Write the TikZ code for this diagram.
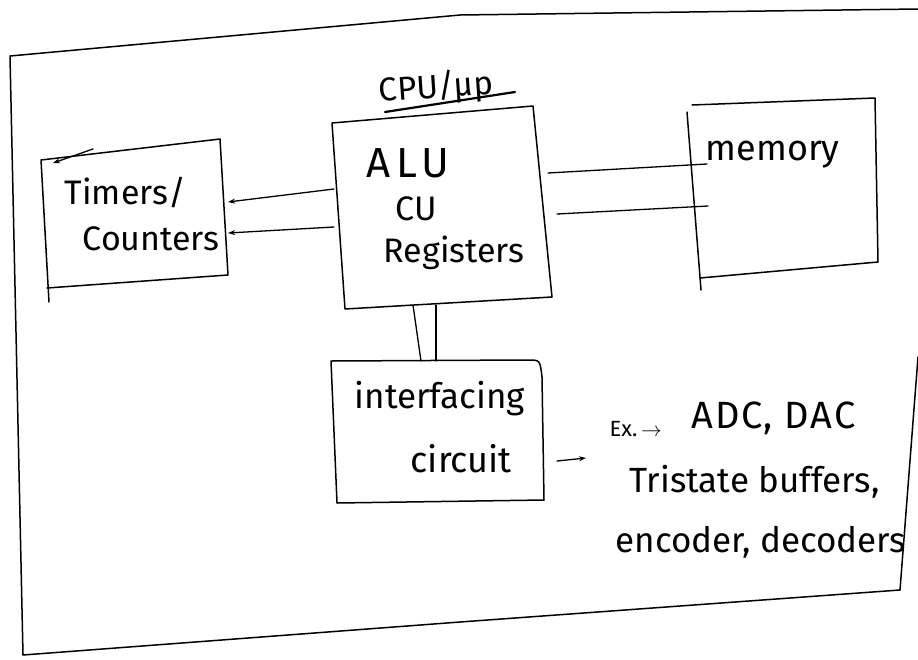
\documentclass[tikz,border=0pt]{standalone}
\usepackage{fontspec}
\setmainfont{Fira Sans}
\usetikzlibrary{arrows.meta}
\begin{document}
\begin{tikzpicture}[x=1pt,y=-1pt, line width=1.4pt, line cap=round, line join=round,
  hand/.style={inner sep=0pt, anchor=base west},
  txt/.style={hand, font=\fontsize{34}{40}\selectfont},
  bigtxt/.style={hand, font=\fontsize{38}{44}\selectfont},
  smalltxt/.style={hand, font=\fontsize{22}{26}\selectfont},
  boxline/.style={line width=1.5pt},
  busline/.style={line width=1.3pt},
  tip/.style={-{Stealth[length=7pt,width=5pt]}}]
\useasboundingbox (0,0) rectangle (918,659);

% outer frame
\coordinate (fTL) at (10,56);
\coordinate (fTM) at (460,15);
\coordinate (fTR) at (918,9);
\coordinate (fRT) at (918,357);
\coordinate (fBR) at (900,590);
\coordinate (fBM) at (460,622);
\coordinate (fBL) at (23,655);
\draw[boxline] (fTR) -- (fTM) -- (fTL) -- (fBL) -- (fBM) -- (fBR) -- (fRT);

% Timers/Counters box
\coordinate (tTL) at (41,160);
\coordinate (tTR) at (220,139);
\coordinate (tBR) at (228,275);
\coordinate (tBL) at (47,288);
\coordinate (tLX) at (49,302);
\draw[boxline] (tBL) -- (tBR) -- (tTR) -- (tTL) -- (tLX);
\coordinate (tmA) at (93,149);
\coordinate (tmB) at (53,163);
\draw[busline, tip] (tmA) -- (tmB);
\node[txt] (timers) at (64,204) {Timers/};
\node[txt] (counters) at (82,250) {Counters};

% CPU box
\coordinate (cTL) at (332,123);
\coordinate (cTR) at (533,106);
\coordinate (cBR) at (552,297);
\coordinate (cBL) at (345,309);
\draw[boxline] (cTL) -- (cTR) -- (cBR) -- (cBL) -- cycle;
\node[hand, font=\fontsize{33}{38}\selectfont, rotate=4] (cpu) at (379,102) {CPU/μp};
\coordinate (ulA) at (385,112);
\coordinate (ulB) at (515,92);
\draw[line width=2.2pt] (ulA) -- (ulB);
\node[hand, font=\fontsize{42}{46}\selectfont] (alu) at (366,177) {A\hspace{6pt}L\hspace{4pt}U};
\node[txt] (cu) at (395,220) {CU};
\node[txt] (regs) at (383,262) {Registers};

% Memory box
\coordinate (mTL) at (692,105);
\coordinate (mTR) at (875,98);
\coordinate (mBR) at (878,262);
\coordinate (mBL) at (700,278);
\coordinate (mLT) at (687,112);
\coordinate (mLX) at (701,290);
\draw[boxline] (mTL) -- (mTR) -- (mBR) -- (mBL);
\draw[boxline] (mLT) -- (mLX);
\node[hand, font=\fontsize{36}{40}\selectfont] (memory) at (705,160) {memory};

% Interfacing circuit box
\coordinate (iTL) at (331,361);
\coordinate (iTR) at (528,360);
\coordinate (iRT) at (542,377);
\coordinate (iBR) at (544,500);
\coordinate (iBL) at (337,503);
\draw[boxline] (iTL) -- (iTR) .. controls (540,360) .. (iRT) -- (iBR) -- (iBL) -- cycle;
\node[hand, font=\fontsize{35}{40}\selectfont] (interf) at (354,408) {interfacing};
\node[hand, font=\fontsize{36}{40}\selectfont] (circuit) at (410,472) {circuit};

% buses CPU -> Timers
\coordinate (b1c) at (334,189);
\coordinate (b1t) at (228,202);
\coordinate (b2c) at (334,227);
\coordinate (b2t) at (228,233);
\draw[busline, tip] (b1c) -- (b1t);
\draw[busline, tip] (b2c) -- (b2t);

% buses CPU -> memory
\coordinate (m1c) at (548,173);
\coordinate (m1m) at (707,164);
\coordinate (m2c) at (557,214);
\coordinate (m2m) at (708,206);
\draw[busline] (m1c) -- (m1m);
\draw[busline] (m2c) -- (m2m);

% bus CPU -> interfacing
\coordinate (v1c) at (413,305);
\coordinate (v1i) at (421,361);
\coordinate (v2c) at (436,305);
\coordinate (v2i) at (436,361);
\draw[busline] (v1c) -- (v1i);
\draw[busline] (v2c) -- (v2i);

% examples
\coordinate (exA) at (557,461);
\coordinate (exB) at (586,458);
\draw[busline, tip] (exA) -- (exB);
\node[smalltxt] (ex) at (609,436) {Ex.\,$\rightarrow$};
\node[bigtxt] (adc) at (691,428) {A\hspace{2pt}D\hspace{2pt}C,\hspace{2pt} D\hspace{2pt}A\hspace{2pt}C};
\node[hand, font=\fontsize{35}{40}\selectfont] (tri) at (629,492) {Tristate buffers,};
\node[hand, font=\fontsize{35}{40}\selectfont] (enc) at (615,552) {encoder, decoders};
\end{tikzpicture}
\end{document}
